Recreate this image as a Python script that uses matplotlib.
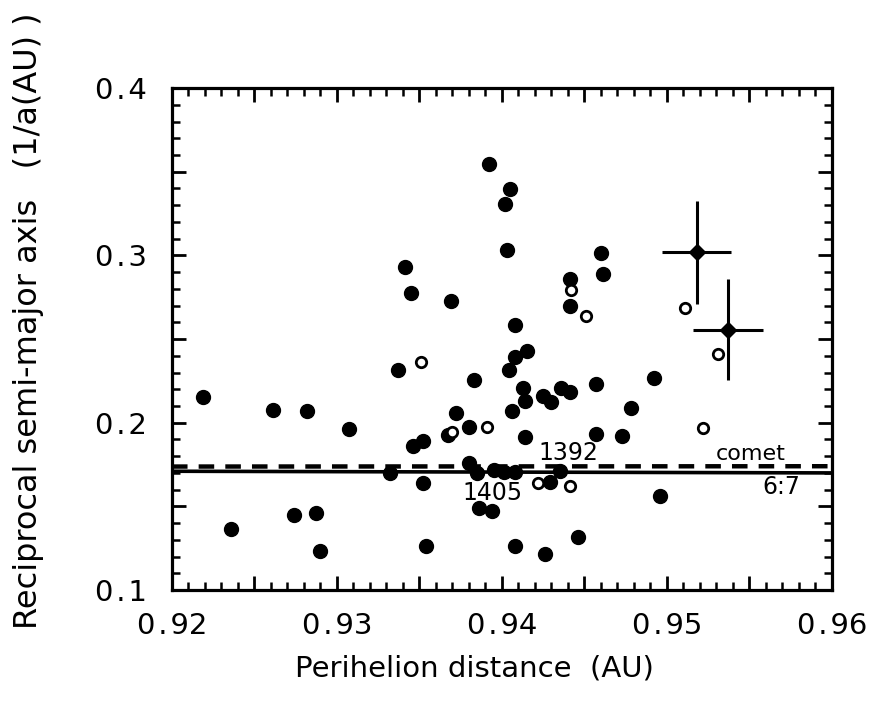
import matplotlib
matplotlib.use("Agg")
import matplotlib.pyplot as plt
from matplotlib.ticker import FixedLocator, MultipleLocator, FuncFormatter
import numpy as np

# ---------------- data ----------------
filled_q = [0.9392, 0.9405, 0.9402, 0.9403, 0.9341, 0.9345, 0.9369, 0.9460, 0.9461,
            0.9441, 0.9441, 0.9408, 0.9337, 0.9415, 0.9408, 0.9404, 0.9383, 0.9219,
            0.9261, 0.9282, 0.9413, 0.9414, 0.9425, 0.9430, 0.9436, 0.9441, 0.9457,
            0.9492, 0.9478, 0.9307, 0.9372, 0.9406, 0.9380, 0.9346, 0.9352, 0.9414,
            0.9457, 0.9473, 0.9332, 0.9380, 0.9385, 0.9395, 0.9401, 0.9408, 0.9435,
            0.9429, 0.9352, 0.9274, 0.9287, 0.9236, 0.9386, 0.9394, 0.9496, 0.9290,
            0.9354, 0.9408, 0.9426, 0.9446, 0.9367]
filled_inv_a = [0.3545, 0.3394, 0.3308, 0.3034, 0.2932, 0.2773, 0.2729, 0.3015, 0.2888,
                0.2860, 0.2696, 0.2587, 0.2313, 0.2430, 0.2391, 0.2315, 0.2255, 0.2155,
                0.2074, 0.2071, 0.2205, 0.2127, 0.2159, 0.2126, 0.2205, 0.2186, 0.2234,
                0.2267, 0.2090, 0.1963, 0.2060, 0.2071, 0.1973, 0.1863, 0.1893, 0.1914,
                0.1934, 0.1918, 0.1699, 0.1758, 0.1702, 0.1716, 0.1708, 0.1705, 0.1709,
                0.1643, 0.1638, 0.1447, 0.1460, 0.1363, 0.1490, 0.1471, 0.1560, 0.1233,
                0.1266, 0.1263, 0.1217, 0.1319, 0.1924]

open_q = [0.9351, 0.9442, 0.9451, 0.9511, 0.9531, 0.9391, 0.9370, 0.9522, 0.9422, 0.9441]
open_inv_a = [0.2361, 0.2796, 0.2636, 0.2686, 0.2412, 0.1977, 0.1946, 0.1967, 0.1641, 0.1619]

err_q = [0.9518, 0.9537]
err_inv_a = [0.3018, 0.2557]
err_q_unc = [0.0021, 0.0021]
err_inv_a_unc = [0.031, 0.030]

line_q = [0.92, 0.96]
resonance_inv_a = [0.1710, 0.1700]
comet_inv_a = [0.1738, 0.1740]

labels_text = ["1392", "1405", "comet", "6:7"]
labels_q = [0.9440, 0.9394, 0.9551, 0.9569]
labels_inv_a = [0.1817, 0.1578, 0.1813, 0.1617]

x_ticks_labeled = [0.92, 0.93, 0.94, 0.95, 0.96]
y_ticks_labeled = [0.1, 0.2, 0.3, 0.4]

# ---------------- figure ----------------
plt.rcParams['font.family'] = ['DejaVu Sans']
fig = plt.figure(figsize=(8.73, 7.02), dpi=100)
ax = fig.add_axes([0.197, 0.1595, 0.756, 0.715])

ax.plot(line_q, resonance_inv_a, color='black', lw=2.6, solid_capstyle='butt', zorder=2)
ax.plot(line_q, comet_inv_a, color='black', lw=3.2, linestyle=(0, (3.5, 2.5)), zorder=2)

ax.plot(filled_q, filled_inv_a, linestyle='none', marker='o', markersize=10,
        markerfacecolor='black', markeredgecolor='black', zorder=3)
ax.plot(open_q, open_inv_a, linestyle='none', marker='o', markersize=7.5,
        markerfacecolor='white', markeredgecolor='black', markeredgewidth=2.0, zorder=3)
ax.errorbar(err_q, err_inv_a, xerr=err_q_unc, yerr=err_inv_a_unc, fmt='D',
            color='black', markersize=8, elinewidth=2.2, capsize=0, zorder=4)

for t, xq, ya in zip(labels_text, labels_q, labels_inv_a):
    ax.text(xq, ya, t, fontsize=17 if t[0].isdigit() else 16, ha='center', va='center',
            zorder=5)

ax.set_xlim(0.92, 0.96)
ax.set_ylim(0.1, 0.4)


def fmt_label(v, labeled, ndec):
    for L in labeled:
        if abs(v - L) < 1e-9:
            s = f"{L:.{ndec}f}"
            return s[0] + "\u200a.\u200a" + s[2:]
    return ""


ax.xaxis.set_major_locator(FixedLocator(list(np.round(np.arange(0.92, 0.9601, 0.005), 3))))
ax.xaxis.set_minor_locator(MultipleLocator(0.001))
ax.yaxis.set_major_locator(FixedLocator(list(np.round(np.arange(0.1, 0.4001, 0.05), 3))))
ax.yaxis.set_minor_locator(MultipleLocator(0.01))
ax.xaxis.set_major_formatter(FuncFormatter(lambda v, p: fmt_label(v, x_ticks_labeled, 2)))
ax.yaxis.set_major_formatter(FuncFormatter(lambda v, p: fmt_label(v, y_ticks_labeled, 1)))

ax.tick_params(which='both', direction='in', top=True, right=True, color='black')
ax.tick_params(which='major', length=10, width=2.0, labelsize=21)
ax.tick_params(which='minor', length=5.5, width=1.8)
ax.tick_params(axis='x', which='major', pad=16)
ax.tick_params(axis='y', which='major', pad=18)

for sp in ax.spines.values():
    sp.set_linewidth(2.3)

ax.set_xlabel("Perihelion distance  (AU)", fontsize=21)
ax.xaxis.set_label_coords(0.459, -0.128)
ax.set_ylabel("Reciprocal semi-major axis   (1/a(AU) )", fontsize=23)
ax.yaxis.set_label_coords(-0.194, 0.536)

fig.savefig("out.png", dpi=100)
